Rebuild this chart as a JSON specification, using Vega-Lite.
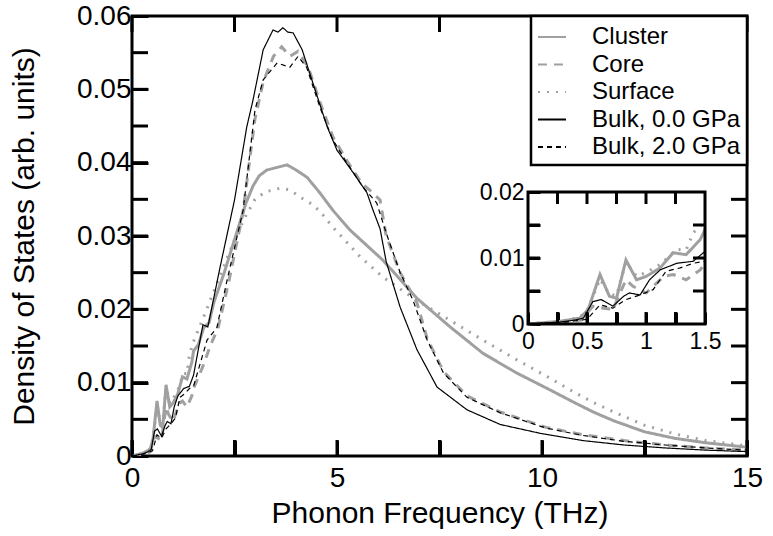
{
"$schema": "https://vega.github.io/schema/vega-lite/v6.json",
"autosize": {"type": "none"},
"padding": {"left": 132, "top": 16, "right": 26, "bottom": 80},
"width": 615,
"height": 440,
"background": "white",
"datasets": {
"dos": [
{"s":"Cluster","x":0,"y":0},{"s":"Cluster","x":0.27,"y":0.0004},{"s":"Cluster","x":0.44,"y":0.0009},{"s":"Cluster","x":0.51,"y":0.0022},{"s":"Cluster","x":0.61,"y":0.0075},{"s":"Cluster","x":0.69,"y":0.0042},{"s":"Cluster","x":0.75,"y":0.0039},{"s":"Cluster","x":0.83,"y":0.0097},{"s":"Cluster","x":0.92,"y":0.0067},{"s":"Cluster","x":1.0,"y":0.0072},{"s":"Cluster","x":1.12,"y":0.0085},{"s":"Cluster","x":1.23,"y":0.0108},{"s":"Cluster","x":1.34,"y":0.0105},{"s":"Cluster","x":1.46,"y":0.0128},{"s":"Cluster","x":1.5,"y":0.0143},{"s":"Cluster","x":1.62,"y":0.0152},{"s":"Cluster","x":1.75,"y":0.0175},{"s":"Cluster","x":1.88,"y":0.0182},{"s":"Cluster","x":2.0,"y":0.021},{"s":"Cluster","x":2.25,"y":0.025},{"s":"Cluster","x":2.5,"y":0.0295},{"s":"Cluster","x":2.78,"y":0.0345},{"s":"Cluster","x":2.95,"y":0.0368},{"s":"Cluster","x":3.1,"y":0.0382},{"s":"Cluster","x":3.29,"y":0.039},{"s":"Cluster","x":3.5,"y":0.0393},{"s":"Cluster","x":3.78,"y":0.0397},{"s":"Cluster","x":4.0,"y":0.039},{"s":"Cluster","x":4.27,"y":0.038},{"s":"Cluster","x":4.58,"y":0.0359},{"s":"Cluster","x":4.9,"y":0.0335},{"s":"Cluster","x":5.32,"y":0.0308},{"s":"Cluster","x":6.12,"y":0.0267},{"s":"Cluster","x":6.95,"y":0.0215},{"s":"Cluster","x":7.76,"y":0.0176},{"s":"Cluster","x":8.56,"y":0.014},{"s":"Cluster","x":9.39,"y":0.0113},{"s":"Cluster","x":10.2,"y":0.009},{"s":"Cluster","x":10.75,"y":0.0074},{"s":"Cluster","x":11.25,"y":0.006},{"s":"Cluster","x":11.75,"y":0.0048},{"s":"Cluster","x":12.5,"y":0.0033},{"s":"Cluster","x":13.25,"y":0.0024},{"s":"Cluster","x":14,"y":0.0018},{"s":"Cluster","x":15,"y":0.0012},

{"s":"Core","x":0,"y":0},{"s":"Core","x":0.27,"y":0.0002},{"s":"Core","x":0.45,"y":0.0006},{"s":"Core","x":0.55,"y":0.0027},{"s":"Core","x":0.64,"y":0.0024},{"s":"Core","x":0.72,"y":0.0022},{"s":"Core","x":0.83,"y":0.0067},{"s":"Core","x":0.89,"y":0.0057},{"s":"Core","x":1.0,"y":0.0047},{"s":"Core","x":1.15,"y":0.0072},{"s":"Core","x":1.23,"y":0.0075},{"s":"Core","x":1.34,"y":0.0067},{"s":"Core","x":1.46,"y":0.0082},{"s":"Core","x":1.5,"y":0.0092},{"s":"Core","x":1.75,"y":0.0125},{"s":"Core","x":1.9,"y":0.0149},{"s":"Core","x":2.1,"y":0.0175},{"s":"Core","x":2.35,"y":0.0235},{"s":"Core","x":2.7,"y":0.033},{"s":"Core","x":3.0,"y":0.046},{"s":"Core","x":3.2,"y":0.051},{"s":"Core","x":3.45,"y":0.0545},{"s":"Core","x":3.65,"y":0.0558},{"s":"Core","x":3.85,"y":0.0545},{"s":"Core","x":4.05,"y":0.0552},{"s":"Core","x":4.3,"y":0.053},{"s":"Core","x":4.6,"y":0.048},{"s":"Core","x":4.9,"y":0.0435},{"s":"Core","x":5.25,"y":0.0402},{"s":"Core","x":5.6,"y":0.0372},{"s":"Core","x":5.85,"y":0.036},{"s":"Core","x":6.05,"y":0.0349},{"s":"Core","x":6.2,"y":0.03},{"s":"Core","x":6.54,"y":0.025},{"s":"Core","x":6.95,"y":0.0209},{"s":"Core","x":7.2,"y":0.016},{"s":"Core","x":7.6,"y":0.0115},{"s":"Core","x":8.17,"y":0.0082},{"s":"Core","x":8.98,"y":0.006},{"s":"Core","x":10.1,"y":0.0039},{"s":"Core","x":11,"y":0.0029},{"s":"Core","x":12,"y":0.0021},{"s":"Core","x":13,"y":0.0015},{"s":"Core","x":14,"y":0.0011},{"s":"Core","x":15,"y":0.0008},

{"s":"Surface","x":0,"y":0},{"s":"Surface","x":0.27,"y":0.0004},{"s":"Surface","x":0.44,"y":0.001},{"s":"Surface","x":0.51,"y":0.0024},{"s":"Surface","x":0.61,"y":0.0068},{"s":"Surface","x":0.69,"y":0.0045},{"s":"Surface","x":0.75,"y":0.0043},{"s":"Surface","x":0.83,"y":0.0094},{"s":"Surface","x":0.92,"y":0.0072},{"s":"Surface","x":1.0,"y":0.0078},{"s":"Surface","x":1.12,"y":0.009},{"s":"Surface","x":1.26,"y":0.0113},{"s":"Surface","x":1.34,"y":0.0112},{"s":"Surface","x":1.4,"y":0.0138},{"s":"Surface","x":1.5,"y":0.0156},{"s":"Surface","x":1.75,"y":0.019},{"s":"Surface","x":2.0,"y":0.0225},{"s":"Surface","x":2.25,"y":0.026},{"s":"Surface","x":2.5,"y":0.0295},{"s":"Surface","x":2.75,"y":0.0325},{"s":"Surface","x":3.0,"y":0.035},{"s":"Surface","x":3.25,"y":0.036},{"s":"Surface","x":3.6,"y":0.0365},{"s":"Surface","x":3.85,"y":0.0363},{"s":"Surface","x":4.1,"y":0.0353},{"s":"Surface","x":4.34,"y":0.0345},{"s":"Surface","x":4.58,"y":0.0334},{"s":"Surface","x":4.9,"y":0.0312},{"s":"Surface","x":5.56,"y":0.0272},{"s":"Surface","x":6.12,"y":0.0244},{"s":"Surface","x":6.95,"y":0.0212},{"s":"Surface","x":7.76,"y":0.0185},{"s":"Surface","x":8.56,"y":0.0158},{"s":"Surface","x":9.39,"y":0.0131},{"s":"Surface","x":10.2,"y":0.0106},{"s":"Surface","x":10.75,"y":0.0088},{"s":"Surface","x":11.25,"y":0.0073},{"s":"Surface","x":11.75,"y":0.006},{"s":"Surface","x":12.5,"y":0.0042},{"s":"Surface","x":13.25,"y":0.003},{"s":"Surface","x":14,"y":0.0021},{"s":"Surface","x":15,"y":0.0014},

{"s":"Bulk, 0.0 GPa","x":0,"y":0},{"s":"Bulk, 0.0 GPa","x":0.27,"y":0.0003},{"s":"Bulk, 0.0 GPa","x":0.4,"y":0.0006},{"s":"Bulk, 0.0 GPa","x":0.47,"y":0.0009},{"s":"Bulk, 0.0 GPa","x":0.55,"y":0.0034},{"s":"Bulk, 0.0 GPa","x":0.62,"y":0.0037},{"s":"Bulk, 0.0 GPa","x":0.72,"y":0.0027},{"s":"Bulk, 0.0 GPa","x":0.81,"y":0.0042},{"s":"Bulk, 0.0 GPa","x":0.86,"y":0.0047},{"s":"Bulk, 0.0 GPa","x":0.95,"y":0.0044},{"s":"Bulk, 0.0 GPa","x":1.03,"y":0.0067},{"s":"Bulk, 0.0 GPa","x":1.12,"y":0.0082},{"s":"Bulk, 0.0 GPa","x":1.26,"y":0.0092},{"s":"Bulk, 0.0 GPa","x":1.4,"y":0.0095},{"s":"Bulk, 0.0 GPa","x":1.5,"y":0.011},{"s":"Bulk, 0.0 GPa","x":1.73,"y":0.0179},{"s":"Bulk, 0.0 GPa","x":1.85,"y":0.0176},{"s":"Bulk, 0.0 GPa","x":2.15,"y":0.0258},{"s":"Bulk, 0.0 GPa","x":2.5,"y":0.0349},{"s":"Bulk, 0.0 GPa","x":2.8,"y":0.0449},{"s":"Bulk, 0.0 GPa","x":2.95,"y":0.0485},{"s":"Bulk, 0.0 GPa","x":3.2,"y":0.0554},{"s":"Bulk, 0.0 GPa","x":3.44,"y":0.0581},{"s":"Bulk, 0.0 GPa","x":3.56,"y":0.0578},{"s":"Bulk, 0.0 GPa","x":3.68,"y":0.0584},{"s":"Bulk, 0.0 GPa","x":3.8,"y":0.0578},{"s":"Bulk, 0.0 GPa","x":3.93,"y":0.0577},{"s":"Bulk, 0.0 GPa","x":4.15,"y":0.0554},{"s":"Bulk, 0.0 GPa","x":4.41,"y":0.0509},{"s":"Bulk, 0.0 GPa","x":4.76,"y":0.0449},{"s":"Bulk, 0.0 GPa","x":5.0,"y":0.0417},{"s":"Bulk, 0.0 GPa","x":5.4,"y":0.0386},{"s":"Bulk, 0.0 GPa","x":5.73,"y":0.0359},{"s":"Bulk, 0.0 GPa","x":5.88,"y":0.0335},{"s":"Bulk, 0.0 GPa","x":6.05,"y":0.031},{"s":"Bulk, 0.0 GPa","x":6.2,"y":0.0265},{"s":"Bulk, 0.0 GPa","x":6.54,"y":0.0203},{"s":"Bulk, 0.0 GPa","x":6.95,"y":0.0145},{"s":"Bulk, 0.0 GPa","x":7.44,"y":0.0094},{"s":"Bulk, 0.0 GPa","x":8.17,"y":0.0063},{"s":"Bulk, 0.0 GPa","x":8.98,"y":0.0043},{"s":"Bulk, 0.0 GPa","x":9.95,"y":0.0031},{"s":"Bulk, 0.0 GPa","x":11,"y":0.0021},{"s":"Bulk, 0.0 GPa","x":12,"y":0.0015},{"s":"Bulk, 0.0 GPa","x":13,"y":0.0011},{"s":"Bulk, 0.0 GPa","x":14,"y":0.0008},{"s":"Bulk, 0.0 GPa","x":15,"y":0.0006},

{"s":"Bulk, 2.0 GPa","x":0,"y":0},{"s":"Bulk, 2.0 GPa","x":0.27,"y":0.0002},{"s":"Bulk, 2.0 GPa","x":0.5,"y":0.0007},{"s":"Bulk, 2.0 GPa","x":0.61,"y":0.0029},{"s":"Bulk, 2.0 GPa","x":0.72,"y":0.0024},{"s":"Bulk, 2.0 GPa","x":0.83,"y":0.0037},{"s":"Bulk, 2.0 GPa","x":0.95,"y":0.0044},{"s":"Bulk, 2.0 GPa","x":1.06,"y":0.0052},{"s":"Bulk, 2.0 GPa","x":1.17,"y":0.008},{"s":"Bulk, 2.0 GPa","x":1.29,"y":0.0085},{"s":"Bulk, 2.0 GPa","x":1.4,"y":0.0092},{"s":"Bulk, 2.0 GPa","x":1.5,"y":0.0095},{"s":"Bulk, 2.0 GPa","x":1.83,"y":0.0158},{"s":"Bulk, 2.0 GPa","x":2.07,"y":0.0175},{"s":"Bulk, 2.0 GPa","x":2.32,"y":0.024},{"s":"Bulk, 2.0 GPa","x":2.71,"y":0.0335},{"s":"Bulk, 2.0 GPa","x":3.0,"y":0.0472},{"s":"Bulk, 2.0 GPa","x":3.2,"y":0.0513},{"s":"Bulk, 2.0 GPa","x":3.54,"y":0.0536},{"s":"Bulk, 2.0 GPa","x":3.85,"y":0.053},{"s":"Bulk, 2.0 GPa","x":4.05,"y":0.0545},{"s":"Bulk, 2.0 GPa","x":4.26,"y":0.053},{"s":"Bulk, 2.0 GPa","x":4.58,"y":0.0476},{"s":"Bulk, 2.0 GPa","x":4.9,"y":0.0431},{"s":"Bulk, 2.0 GPa","x":5.24,"y":0.04},{"s":"Bulk, 2.0 GPa","x":5.63,"y":0.0367},{"s":"Bulk, 2.0 GPa","x":5.97,"y":0.0345},{"s":"Bulk, 2.0 GPa","x":6.2,"y":0.0304},{"s":"Bulk, 2.0 GPa","x":6.54,"y":0.025},{"s":"Bulk, 2.0 GPa","x":6.85,"y":0.0213},{"s":"Bulk, 2.0 GPa","x":7.2,"y":0.0158},{"s":"Bulk, 2.0 GPa","x":7.6,"y":0.0113},{"s":"Bulk, 2.0 GPa","x":8.17,"y":0.008},{"s":"Bulk, 2.0 GPa","x":8.98,"y":0.0059},{"s":"Bulk, 2.0 GPa","x":10.1,"y":0.0038},{"s":"Bulk, 2.0 GPa","x":11,"y":0.0028},{"s":"Bulk, 2.0 GPa","x":12,"y":0.002},{"s":"Bulk, 2.0 GPa","x":13,"y":0.0015},{"s":"Bulk, 2.0 GPa","x":14,"y":0.0011},{"s":"Bulk, 2.0 GPa","x":15,"y":0.0008}
],
"xt": [{"v":0},{"v":2.5},{"v":5},{"v":7.5},{"v":10},{"v":12.5},{"v":15}],
"yt": [{"v":0.005},{"v":0.01},{"v":0.015},{"v":0.02},{"v":0.025},{"v":0.03},{"v":0.035},{"v":0.04},{"v":0.045},{"v":0.05},{"v":0.055}],
"ixt": [{"v":0.25},{"v":0.5},{"v":0.75},{"v":1},{"v":1.25}],
"iyt": [{"v":0.005},{"v":0.01},{"v":0.015}]
},
"layer": [
{
"layer": [
{
"data": {"name": "dos"},
"transform": [{"filter": "indexof(datum.s, 'Bulk') < 0"}],
"mark": {"type": "line", "strokeCap": "butt", "clip": true, "strokeWidth": 3},
"encoding": {
"x": {"field": "x", "type": "quantitative", "scale": {"domain": [0, 15], "nice": false, "zero": false},
"axis": {"orient": "bottom", "values": [0,2.5,5,7.5,10,12.5,15], "labelExpr": "datum.value % 5 === 0 ? format(datum.value, 'd') : ''", "title": "Phonon Frequency (THz)", "tickSize": -16, "labelPadding": 24, "labelFontSize": 28, "titleFontSize": 30, "titlePadding": 6}},
"y": {"field": "y", "type": "quantitative", "scale": {"domain": [0, 0.06], "nice": false, "zero": false},
"axis": {"orient": "left", "values": [0,0.005,0.01,0.015,0.02,0.025,0.03,0.035,0.04,0.045,0.05,0.055,0.06], "labelExpr": "datum.value === 0 ? '0' : (abs(datum.value*100 - round(datum.value*100)) < 1e-6 ? format(datum.value, '.2f') : '')", "title": "Density of States (arb. units)", "tickSize": -16, "labelPadding": 17, "labelFontSize": 28, "titleFontSize": 30, "titlePadding": 37}},
"color": {"field": "s", "type": "nominal", "scale": {"domain": ["Cluster","Core","Surface","Bulk, 0.0 GPa","Bulk, 2.0 GPa"], "range": ["#a0a0a0","#a0a0a0","#a0a0a0","#000000","#000000"]}, "legend": {"title": null}},
"strokeDash": {"field": "s", "type": "nominal", "scale": {"domain": ["Cluster","Core","Surface","Bulk, 0.0 GPa","Bulk, 2.0 GPa"], "range": [[1,0],[9,7],[2,7],[1,0],[5,4]]}, "legend": {"title": null}}
}
},
{
"data": {"name": "dos"},
"transform": [{"filter": "indexof(datum.s, 'Bulk') >= 0"}],
"mark": {"type": "line", "strokeCap": "butt", "clip": true, "strokeWidth": 1.2},
"encoding": {
"x": {"field": "x", "type": "quantitative"},
"y": {"field": "y", "type": "quantitative"},
"color": {"field": "s", "type": "nominal"},
"strokeDash": {"field": "s", "type": "nominal"}
}
},
{
"data": {"name": "xt"},
"mark": {"type": "tick", "orient": "vertical", "size": 16, "thickness": 3, "color": "black", "opacity": 1, "yOffset": -8},
"encoding": {"x": {"field": "v", "type": "quantitative"}, "y": {"datum": 0, "type": "quantitative"}}
},
{
"data": {"name": "xt"},
"mark": {"type": "tick", "orient": "vertical", "size": 16, "thickness": 3, "color": "black", "opacity": 1, "yOffset": 8},
"encoding": {"x": {"field": "v", "type": "quantitative"}, "y": {"datum": 0.06, "type": "quantitative"}}
},
{
"data": {"name": "yt"},
"mark": {"type": "tick", "orient": "horizontal", "size": 16, "thickness": 3, "color": "black", "opacity": 1, "xOffset": 8},
"encoding": {"y": {"field": "v", "type": "quantitative"}, "x": {"datum": 0, "type": "quantitative"}}
},
{
"data": {"name": "yt"},
"mark": {"type": "tick", "orient": "horizontal", "size": 16, "thickness": 3, "color": "black", "opacity": 1, "xOffset": -8},
"encoding": {"y": {"field": "v", "type": "quantitative"}, "x": {"datum": 15, "type": "quantitative"}}
}
]
},
{
"layer": [
{
"data": {"name": "dos"},
"transform": [{"filter": "datum.x <= 1.5 && indexof(datum.s, 'Bulk') < 0"}],
"mark": {"type": "line", "strokeCap": "butt", "strokeWidth": 3},
"encoding": {
"x": {"field": "x", "type": "quantitative", "scale": {"domain": [0, 1.5], "nice": false, "zero": false, "range": [396, 573]},
"axis": {"orient": "bottom", "offset": -132, "values": [0,0.25,0.5,0.75,1,1.25,1.5], "labelExpr": "(datum.value*2) % 1 === 0 ? toString(datum.value) : ''", "title": null, "tickSize": -12, "labelPadding": 18, "labelFontSize": 23}},
"y": {"field": "y", "type": "quantitative", "scale": {"domain": [0, 0.02], "nice": false, "zero": false, "range": [308, 176]},
"axis": {"orient": "left", "offset": -396, "values": [0,0.005,0.01,0.015,0.02], "labelExpr": "datum.value === 0 ? '0' : (abs(datum.value*100 - round(datum.value*100)) < 1e-6 ? format(datum.value, '.2f') : '')", "title": null, "tickSize": -12, "labelPadding": 16, "labelFontSize": 23}},
"color": {"field": "s", "type": "nominal"},
"strokeDash": {"field": "s", "type": "nominal"}
}
},
{
"data": {"name": "dos"},
"transform": [{"filter": "datum.x <= 1.5 && indexof(datum.s, 'Bulk') >= 0"}],
"mark": {"type": "line", "strokeCap": "butt", "strokeWidth": 1.2},
"encoding": {
"x": {"field": "x", "type": "quantitative"},
"y": {"field": "y", "type": "quantitative"},
"color": {"field": "s", "type": "nominal"},
"strokeDash": {"field": "s", "type": "nominal"}
}
},
{
"data": {"values": [{}]},
"mark": {"type": "rect", "filled": false, "stroke": "black", "strokeWidth": 3, "opacity": 1},
"encoding": {"x": {"datum": 0, "type": "quantitative"}, "x2": {"datum": 1.5}, "y": {"datum": 0, "type": "quantitative"}, "y2": {"datum": 0.02}}
},
{
"data": {"name": "ixt"},
"mark": {"type": "tick", "orient": "vertical", "size": 12, "thickness": 3, "color": "black", "opacity": 1, "yOffset": -6},
"encoding": {"x": {"field": "v", "type": "quantitative"}, "y": {"datum": 0, "type": "quantitative"}}
},
{
"data": {"name": "ixt"},
"mark": {"type": "tick", "orient": "vertical", "size": 12, "thickness": 3, "color": "black", "opacity": 1, "yOffset": 6},
"encoding": {"x": {"field": "v", "type": "quantitative"}, "y": {"datum": 0.02, "type": "quantitative"}}
},
{
"data": {"name": "iyt"},
"mark": {"type": "tick", "orient": "horizontal", "size": 12, "thickness": 3, "color": "black", "opacity": 1, "xOffset": 6},
"encoding": {"y": {"field": "v", "type": "quantitative"}, "x": {"datum": 0, "type": "quantitative"}}
},
{
"data": {"name": "iyt"},
"mark": {"type": "tick", "orient": "horizontal", "size": 12, "thickness": 3, "color": "black", "opacity": 1, "xOffset": -6},
"encoding": {"y": {"field": "v", "type": "quantitative"}, "x": {"datum": 1.5, "type": "quantitative"}}
}
]
}
],
"resolve": {"scale": {"x": "independent", "y": "independent"}, "axis": {"x": "independent", "y": "independent"}},
"config": {
"view": {"stroke": "black", "strokeWidth": 3},
"font": "Liberation Sans",
"axis": {"domain": false, "ticks": true, "tickColor": "#000000", "tickWidth": 3, "labelColor": "black", "titleColor": "black", "labelFont": "Liberation Sans", "titleFont": "Liberation Sans", "titleFontWeight": "normal", "grid": false, "labelOverlap": false, "labelFlush": false, "labelBound": false},
"legend": {"orient": "top-right", "offset": 0, "strokeColor": "black", "strokeWidth": 2.5, "padding": 6, "labelFontSize": 24, "labelFont": "Liberation Sans", "labelColor": "black", "symbolType": "stroke", "symbolSize": 784, "symbolStrokeWidth": 2, "rowPadding": 0.5, "labelOffset": 25, "fillColor": "white"}
}
}
